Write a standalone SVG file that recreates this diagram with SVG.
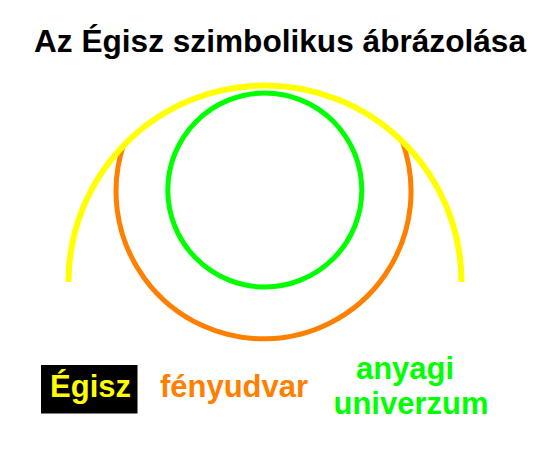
<svg xmlns="http://www.w3.org/2000/svg" width="550" height="450" viewBox="0 0 550 450">
<style>
text{font-family:"Liberation Sans",Arial,sans-serif;font-weight:bold;text-anchor:middle}
.ring{fill:none}
</style>
<rect width="550" height="450" fill="#ffffff"/>
<text id="title" x="280" y="52" font-size="31" fill="#000000" textLength="492" lengthAdjust="spacingAndGlyphs">Az Égisz szimbolikus ábrázolása</text>
<g id="connectors">
</g>
<g id="fenyudvar">
<path class="ring" d="M 123.5 145 A 147.5 147.5 0 1 0 402 140.5" stroke="#ff8000" stroke-width="5"/>
</g>
<g id="egisz">
<path class="ring" d="M 68.5 282 A 196.5 196.5 0 0 1 461.5 282" stroke="#ffff00" stroke-width="6"/>
</g>
<g id="anyagi-univerzum">
<circle class="ring" cx="264.8" cy="190" r="97" stroke="#00ff00" stroke-width="5"/>
</g>
<g id="legend-egisz">
<rect x="41" y="365" width="96.5" height="48.5" fill="#000000"/>
<text x="90.5" y="397" font-size="31" fill="#ffff00">Égisz</text>
</g>
<g id="legend-fenyudvar">
<text x="234" y="397" font-size="31" fill="#ff8000">fényudvar</text>
</g>
<g id="legend-anyagi">
<text x="405" y="379" font-size="31" fill="#00ff00">anyagi</text>
<text x="411" y="414" font-size="31" fill="#00ff00">univerzum</text>
</g>
</svg>
